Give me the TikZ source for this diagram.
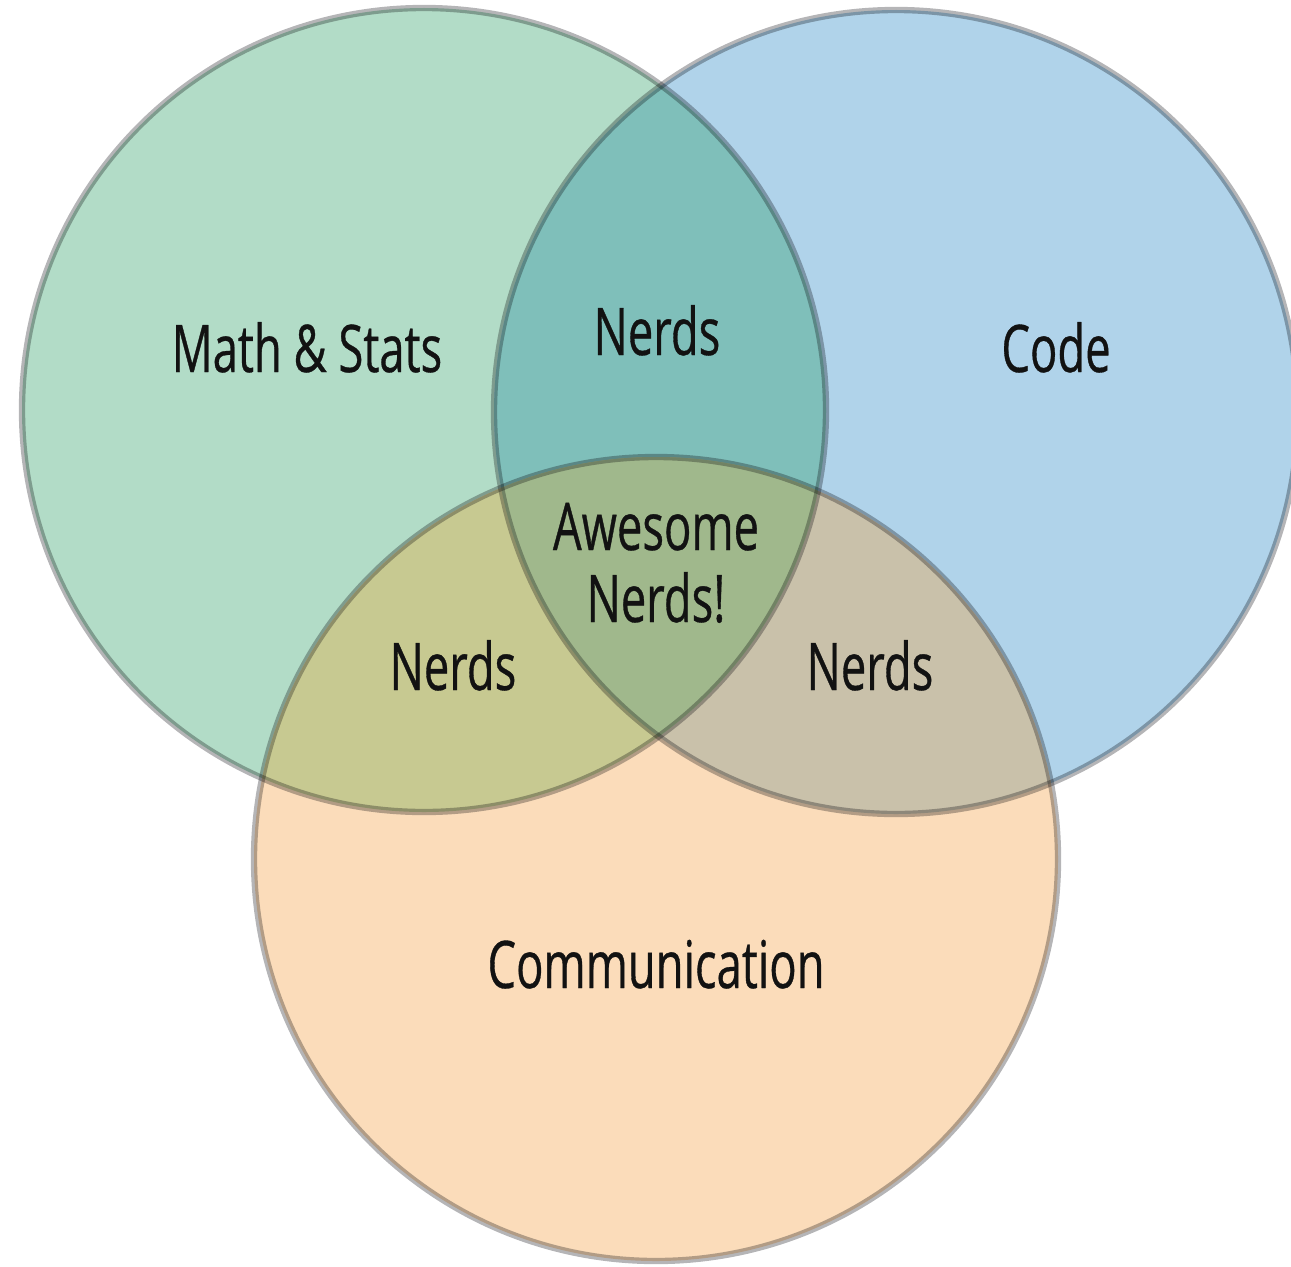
\documentclass[tikz,border=0pt]{standalone}
\usepackage{fontspec}
\setmainfont{Open Sans}[FakeStretch=0.69,FakeBold=0.5]
\usepackage{tikz}

\definecolor{verde}{HTML}{B2DCC7}
\definecolor{azul}{HTML}{B0D3EA}
\definecolor{naranja}{HTML}{FBDCBA}
\definecolor{verdeazul}{HTML}{7FBFBA}
\definecolor{verdenaranja}{HTML}{C7C991}
\definecolor{azulnaranja}{HTML}{C9C1AA}
\definecolor{centro}{HTML}{A0B88C}
\definecolor{gris}{HTML}{B5B5B7}
\newcommand\radio{4.02}

\begin{document}
\begin{tikzpicture}[etiqueta/.style={font=\fontsize{18.7}{22}\selectfont,anchor=base,inner sep=0pt,text=black!93},
                    borde/.style={draw=gris,line width=1.8pt}]
		\useasboundingbox (0,0) rectangle (12.91,12.66);
		\clip (0,0) rectangle (12.91,12.66);

		%Centros
		\coordinate (cmath) at (4.24,8.56);
		\coordinate (ccode) at (8.96,8.54);
		\coordinate (ccomm) at (6.56,4.07);

		%Circulos
		\fill[verde] (cmath) circle (\radio);
		\fill[azul] (ccode) circle (\radio);
		\fill[naranja] (ccomm) circle (\radio);

		%Intersecciones
		\begin{scope}
			\clip (ccode) circle (\radio);
			\fill[azulnaranja] (ccomm) circle (\radio);
		\end{scope}
		\begin{scope}
			\clip (cmath) circle (\radio);
			\fill[verdeazul] (ccode) circle (\radio);
			\fill[verdenaranja] (ccomm) circle (\radio);
			\clip (ccode) circle (\radio);
			\fill[centro] (ccomm) circle (\radio);
		\end{scope}

		%Bordes
		\begin{scope}[blend mode=multiply]
			\draw[borde] (cmath) circle (\radio);
			\draw[borde] (ccode) circle (\radio);
			\draw[borde] (ccomm) circle (\radio);
		\end{scope}

		%Textos
		\node [etiqueta] (math) at (3.07,8.94) {Math \& Stats};
		\node [etiqueta] (code) at (10.56,8.94) {Code};
		\node [etiqueta] (comm) at (6.56,2.78) {Communication};
		\node [etiqueta] (nerds1) at (6.57,9.11) {Nerds};
		\node [etiqueta] (nerds2) at (4.53,5.76) {Nerds};
		\node [etiqueta] (nerds3) at (8.70,5.76) {Nerds};
		\node [etiqueta] (awesome) at (6.56,7.16) {Awesome};
		\node [etiqueta] (awesome2) at (6.56,6.44) {Nerds!};
\end{tikzpicture}
\end{document}
